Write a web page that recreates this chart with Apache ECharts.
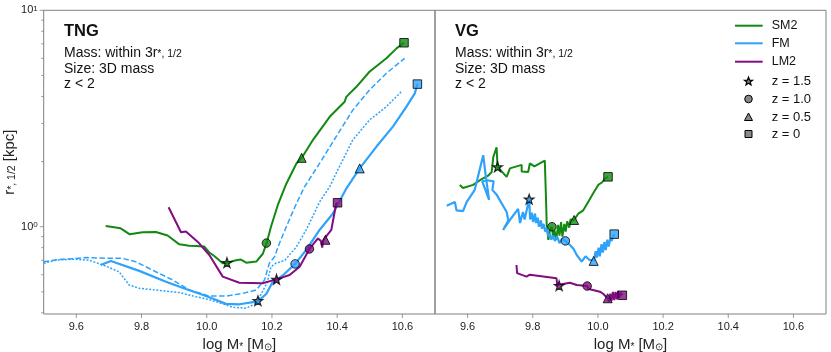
<!DOCTYPE html>
<html>
<head>
<meta charset="utf-8">
<script src="https://cdn.jsdelivr.net/npm/echarts@6/dist/echarts.min.js"></script>
<style>
html, body { margin: 0; padding: 0; background: #fff; }
#chart { width: 831px; height: 352px; }
</style>
</head>
<body>
<div id="chart"></div>
<script>
// 数据
var models = ['SM2', 'FM', 'LM2'];
var redshiftLabels = ['z = 1.5', 'z = 1.0', 'z = 0.5', 'z = 0'];
var panelNames = ['TNG', 'VG'];
var xTicks = [9.6, 9.8, 10.0, 10.2, 10.4, 10.6];
var yMajorTicks = [1, 10];
var yMinorTicks = [0.4, 0.5, 0.6, 0.7, 0.8, 0.9, 2, 3, 4, 5, 6, 7, 8, 9];
var xMin = 9.5, xMax = 10.7, yMin = 0.395, yMax = 10;

// TNG panel
var tngSm2 = [[9.690,1.007],[9.736,0.983],[9.764,0.922],[9.803,0.942],[9.844,0.945],[9.880,0.910],[9.916,0.829],[9.946,0.817],[9.967,0.815],[9.992,0.810],[10.008,0.760],[10.023,0.732],[10.049,0.678],[10.062,0.682],[10.090,0.700],[10.105,0.705],[10.121,0.682],[10.152,0.690],[10.172,0.750],[10.184,0.842],[10.197,1.000],[10.218,1.260],[10.244,1.580],[10.275,1.960],[10.292,2.090],[10.326,2.520],[10.377,3.220],[10.423,3.780],[10.428,3.980],[10.459,4.430],[10.499,5.200],[10.551,6.000],[10.582,6.670],[10.605,7.080]];
var tngFm = [[9.675,0.665],[9.706,0.694],[9.793,0.625],[9.875,0.557],[9.936,0.515],[9.987,0.485],[10.020,0.465],[10.059,0.440],[10.100,0.438],[10.157,0.452],[10.183,0.490],[10.200,0.548],[10.233,0.595],[10.271,0.673],[10.305,0.780],[10.346,0.966],[10.387,1.150],[10.428,1.500],[10.469,1.860],[10.520,2.340],[10.571,2.900],[10.612,3.580],[10.638,4.130],[10.646,4.560]];
var tngFmDash = [[9.500,0.689],[9.547,0.706],[9.598,0.713],[9.629,0.720],[9.690,0.714],[9.741,0.714],[9.782,0.689],[9.844,0.619],[9.896,0.567],[9.947,0.510],[10.008,0.478],[10.059,0.478],[10.111,0.492],[10.152,0.510],[10.177,0.567],[10.192,0.678],[10.208,0.727],[10.223,0.838],[10.244,1.000],[10.275,1.280],[10.300,1.530],[10.346,1.960],[10.397,2.610],[10.448,3.460],[10.499,4.280],[10.551,5.120],[10.607,6.000]];
var tngFmDot = [[9.500,0.678],[9.537,0.700],[9.588,0.708],[9.640,0.700],[9.690,0.658],[9.731,0.619],[9.762,0.538],[9.793,0.519],[9.844,0.510],[9.916,0.496],[9.967,0.475],[10.008,0.460],[10.050,0.440],[10.080,0.424],[10.121,0.420],[10.152,0.443],[10.185,0.550],[10.197,0.653],[10.212,0.678],[10.240,0.700],[10.275,0.808],[10.305,0.966],[10.346,1.300],[10.377,1.530],[10.402,1.830],[10.448,2.520],[10.499,3.110],[10.551,3.590],[10.597,4.210]];
var tngLm2 = [[9.883,1.230],[9.921,0.942],[9.936,0.950],[9.972,0.853],[10.008,0.740],[10.049,0.588],[10.100,0.551],[10.171,0.548],[10.214,0.571],[10.254,0.598],[10.285,0.653],[10.315,0.789],[10.341,0.883],[10.350,0.860],[10.354,0.800],[10.358,0.870],[10.364,0.875],[10.382,0.966],[10.397,1.280],[10.401,1.290]];
var tngSm2Marks = [[10.062,0.682],[10.183,0.840],[10.291,2.080],[10.605,7.080]];
var tngFmMarks = [[10.157,0.455],[10.271,0.673],[10.469,1.860],[10.646,4.560]];
var tngLm2Marks = [[10.214,0.571],[10.315,0.789],[10.364,0.870],[10.401,1.290]];

// VG panel
var vgSm2 = [[9.576,1.56],[9.586,1.51],[9.617,1.56],[9.638,1.64],[9.663,1.72],[9.674,1.79],[9.679,2.10],[9.689,2.33],[9.692,1.89],[9.720,1.70],[9.730,1.86],[9.766,1.93],[9.766,1.80],[9.786,1.79],[9.791,1.96],[9.805,1.90],[9.837,2.02],[9.841,1.30],[9.843,1.00],[9.848,0.87],[9.853,0.97],[9.858,1.00],[9.863,0.90],[9.867,0.96],[9.872,0.87],[9.878,1.02],[9.882,0.91],[9.887,1.05],[9.891,0.90],[9.897,1.03],[9.901,0.95],[9.906,1.06],[9.912,0.99],[9.916,1.08],[9.927,1.074],[9.940,1.15],[9.955,1.19],[9.970,1.30],[9.986,1.43],[10.001,1.56],[10.012,1.60],[10.022,1.67],[10.031,1.70]];
var vgFm = [[9.536,1.25],[9.561,1.30],[9.566,1.19],[9.586,1.18],[9.597,1.30],[9.622,1.48],[9.648,2.14],[9.655,1.75],[9.666,1.33],[9.645,1.62],[9.660,1.64],[9.680,1.62],[9.676,1.48],[9.690,1.40],[9.720,1.17],[9.725,1.07],[9.709,0.966],[9.735,1.10],[9.755,1.21],[9.761,1.04],[9.770,1.17],[9.775,1.08],[9.789,1.34],[9.792,1.08],[9.797,1.16],[9.801,1.05],[9.807,1.15],[9.810,1.04],[9.815,1.10],[9.819,1.00],[9.825,1.07],[9.828,0.98],[9.833,1.03],[9.838,0.95],[9.844,0.99],[9.848,0.90],[9.853,0.93],[9.857,0.87],[9.862,0.91],[9.868,0.86],[9.875,0.90],[9.882,0.84],[9.890,0.88],[9.900,0.86],[9.914,0.823],[9.925,0.79],[9.935,0.74],[9.950,0.689],[9.962,0.73],[9.975,0.70],[9.988,0.70],[9.993,0.77],[9.997,0.72],[10.002,0.80],[10.006,0.73],[10.011,0.83],[10.015,0.76],[10.020,0.85],[10.024,0.78],[10.029,0.87],[10.033,0.81],[10.038,0.88],[10.042,0.86],[10.047,0.90],[10.050,0.924]];
var vgLm2 = [[9.750,0.665],[9.752,0.610],[9.781,0.588],[9.791,0.600],[9.873,0.578],[9.875,0.538],[9.881,0.534],[9.914,0.551],[9.935,0.538],[9.967,0.532],[9.972,0.515],[10.006,0.501],[10.016,0.490],[10.030,0.467],[10.034,0.450],[10.038,0.490],[10.042,0.455],[10.046,0.500],[10.050,0.458],[10.054,0.500],[10.058,0.462],[10.062,0.505],[10.066,0.470],[10.070,0.495],[10.075,0.482]];
var vgSm2Marks = [[9.692,1.89],[9.859,1.00],[9.927,1.074],[10.031,1.70]];
var vgFmMarks = [[9.789,1.34],[9.900,0.86],[9.987,0.695],[10.050,0.924]];
var vgLm2Marks = [[9.881,0.534],[9.967,0.532],[10.030,0.467],[10.075,0.482]];

var modelColors = ['#128a12', '#2fa3fb', '#820c82'];
var STAR = 'M50,2 L61.8,35.8 L97.6,36.6 L69,58.2 L79.4,92.4 L50,72 L20.6,92.4 L31,58.2 L2.4,36.6 L38.2,35.8 Z';
var markSymbols = ['path://' + STAR, 'circle', 'triangle', 'rect'];
var markSizes = [9.5, 8.5, 9, 8.5];
var markBorders = [1.3, 1, 1, 1];
var FONT = 'Liberation Sans';
var frameColor = '#808080';

function initEcharts() {
    var myChart = echarts.init(document.getElementById('chart'));

    function lineSeries(name, data, g, color, width, dash) {
        return {
            name: name, type: 'line', xAxisIndex: g, yAxisIndex: g,
            data: data, showSymbol: false, symbol: 'none', silent: true,
            lineStyle: { color: color, width: width, type: dash || 'solid' },
            z: 3
        };
    }
    function tickSeries(data, g, size, offset) {
        return {
            type: 'scatter', xAxisIndex: g, yAxisIndex: g, data: data,
            symbol: 'rect', symbolSize: size, symbolOffset: offset,
            itemStyle: { color: frameColor }, clip: false, silent: true, z: 1
        };
    }

    var series = [
        lineSeries('SM2', tngSm2, 0, modelColors[0], 2),
        lineSeries('FM', tngFmDash, 0, modelColors[1], 1.5, [5.5, 2.5]),
        lineSeries('FM', tngFmDot, 0, modelColors[1], 1.5, [2, 1.6]),
        lineSeries('FM', tngFm, 0, modelColors[1], 2.2),
        lineSeries('LM2', tngLm2, 0, modelColors[2], 2),
        lineSeries('SM2', vgSm2, 1, modelColors[0], 2),
        lineSeries('FM', vgFm, 1, modelColors[1], 2.2),
        lineSeries('LM2', vgLm2, 1, modelColors[2], 2)
    ];

    var marks = [[tngSm2Marks, tngFmMarks, tngLm2Marks], [vgSm2Marks, vgFmMarks, vgLm2Marks]];
    for (var g = 0; g < 2; g++) {
        for (var k = 0; k < redshiftLabels.length; k++) {
            var pts = [];
            for (var m = 0; m < models.length; m++) {
                pts.push({ value: marks[g][m][k], itemStyle: { color: modelColors[m] } });
            }
            series.push({
                name: redshiftLabels[k], type: 'scatter', xAxisIndex: g, yAxisIndex: g,
                data: pts, symbol: markSymbols[k], symbolSize: markSizes[k],
                itemStyle: { borderColor: '#000', borderWidth: markBorders[k] }, silent: true, z: 5
            });
        }
        series.push(tickSeries(xTicks.map(function (v) { return [v, yMin]; }), g, [1, 4], [0, 2]));
    }
    series.push(tickSeries(yMajorTicks.map(function (v) { return [xMin, v]; }), 0, [4, 1], [-2, 0]));
    series.push(tickSeries(yMinorTicks.map(function (v) { return [xMin, v]; }), 0, [2.5, 1], [-1.25, 0]));

    var xAxisBase = {
        type: 'value', min: xMin, max: xMax, splitNumber: 6,
        axisLine: { show: false }, axisTick: { show: false }, splitLine: { show: false },
        axisLabel: {
            color: '#222', fontSize: 11, fontFamily: FONT, margin: 7,
            formatter: function (v) {
                var r = Math.round(v * 5) / 5;
                return Math.abs(v - r) < 1e-6 && v > xMin + 1e-6 && v < xMax - 1e-6 ? r.toFixed(1) : '';
            }
        },
        name: 'log M{s|*} [M{s|⊙}]', nameLocation: 'middle', nameGap: 16,
        nameTextStyle: {
            color: '#222', fontSize: 15, fontFamily: FONT,
            rich: { s: { fontSize: 10, fontFamily: FONT, color: '#222', verticalAlign: 'bottom' } }
        }
    };
    var yAxisBase = {
        type: 'log', logBase: 10, min: yMin, max: yMax,
        axisLine: { show: false }, axisTick: { show: false }, splitLine: { show: false },
        minorTick: { show: false }
    };

    var option = {
        animation: false,
        grid: [
            { left: 43.7, top: 10.3, width: 391.3, height: 303.7, show: true, borderColor: frameColor, borderWidth: 1, containLabel: false, outerBoundsMode: 'none' },
            { left: 435, top: 10.3, width: 391, height: 303.7, show: true, borderColor: frameColor, borderWidth: 1, containLabel: false, outerBoundsMode: 'none' }
        ],
        xAxis: [
            Object.assign({ gridIndex: 0 }, xAxisBase),
            Object.assign({ gridIndex: 1 }, xAxisBase)
        ],
        yAxis: [
            Object.assign({ gridIndex: 0 }, yAxisBase, {
                axisLabel: {
                    color: '#222', fontSize: 11, fontFamily: FONT, margin: 6,
                    formatter: function (v) {
                        var e = Math.log10(v);
                        if (Math.abs(e - Math.round(e)) > 1e-6) return '';
                        return '{b|10}{s|' + Math.round(e) + '}';
                    },
                    rich: {
                        b: { fontSize: 11, fontFamily: FONT, color: '#222' },
                        s: { fontSize: 8, fontFamily: FONT, color: '#222', verticalAlign: 'top' }
                    }
                },
                name: '{a|r}{b|*, 1/2}{a| [kpc]}', nameLocation: 'middle', nameGap: 23, nameRotate: 90,
                nameTextStyle: {
                    rich: {
                        a: { fontSize: 15, fontFamily: FONT, color: '#222' },
                        b: { fontSize: 10.5, fontFamily: FONT, color: '#222', verticalAlign: 'bottom' }
                    }
                }
            }),
            Object.assign({ gridIndex: 1 }, yAxisBase, { axisLabel: { show: false } })
        ],
        series: series,
        graphic: buildGraphics()
    };

    myChart.setOption(option);
    resize(myChart);
}

// 注释和图例
function buildGraphics() {
    var els = [];
    var panelX = [64, 455];
    var txt = { fill: '#111', fontFamily: FONT };
    for (var i = 0; i < 2; i++) {
        els.push({ type: 'text', style: Object.assign({ x: panelX[i], y: 31, text: panelNames[i], fontSize: 16.5, fontWeight: 'bold', verticalAlign: 'middle' }, txt) });
        els.push({ type: 'text', style: Object.assign({ x: panelX[i], y: 53, text: 'Mass: within 3r{s|*, 1/2}', fontSize: 14, verticalAlign: 'middle',
            rich: { s: { fontSize: 10.5, fontFamily: FONT, fill: '#111', verticalAlign: 'bottom' } } }, txt) });
        els.push({ type: 'text', style: Object.assign({ x: panelX[i], y: 69, text: 'Size: 3D mass', fontSize: 14, verticalAlign: 'middle' }, txt) });
        els.push({ type: 'text', style: Object.assign({ x: panelX[i], y: 84.5, text: 'z < 2', fontSize: 14, verticalAlign: 'middle' }, txt) });
    }
    // legend
    var lineY = [25.7, 43.3, 61.7];
    for (var m = 0; m < models.length; m++) {
        els.push({ type: 'line', shape: { x1: 735, y1: lineY[m], x2: 762.7, y2: lineY[m] }, style: { stroke: modelColors[m], lineWidth: 2 } });
        els.push({ type: 'text', style: Object.assign({ x: 771.7, y: lineY[m], text: models[m], fontSize: 12.5, verticalAlign: 'middle' }, txt) });
    }
    var symY = [81, 99, 117, 134];
    var gray = { fill: '#888', stroke: '#000', lineWidth: 1 };
    // star outline: 5 outer + 5 inner vertices
    var starPts = [];
    for (var j = 0; j < 10; j++) {
        var rad = j % 2 === 0 ? 4.2 : 1.8;
        var ang = -Math.PI / 2 + j * Math.PI / 5;
        starPts.push([748.5 + rad * Math.cos(ang), symY[0] + 0.5 + rad * Math.sin(ang)]);
    }
    els.push({ type: 'polygon', shape: { points: starPts }, style: { fill: '#888', stroke: '#000', lineWidth: 1.3 } });
    els.push({ type: 'circle', shape: { cx: 748.5, cy: symY[1], r: 3.8 }, style: gray });
    els.push({ type: 'polygon', shape: { points: [[748.5, symY[2] - 4], [752.5, symY[2] + 3.5], [744.5, symY[2] + 3.5]] }, style: gray });
    els.push({ type: 'rect', shape: { x: 745, y: symY[3] - 3.5, width: 7, height: 7 }, style: gray });
    for (var k = 0; k < redshiftLabels.length; k++) {
        els.push({ type: 'text', style: Object.assign({ x: 771.7, y: symY[k], text: redshiftLabels[k], fontSize: 13, verticalAlign: 'middle' }, txt) });
    }
    return els;
}

// 响应式
function resize(echart) {
    window.onresize = function () {
        echart.resize();
    };
}

initEcharts();
</script>
</body>
</html>
